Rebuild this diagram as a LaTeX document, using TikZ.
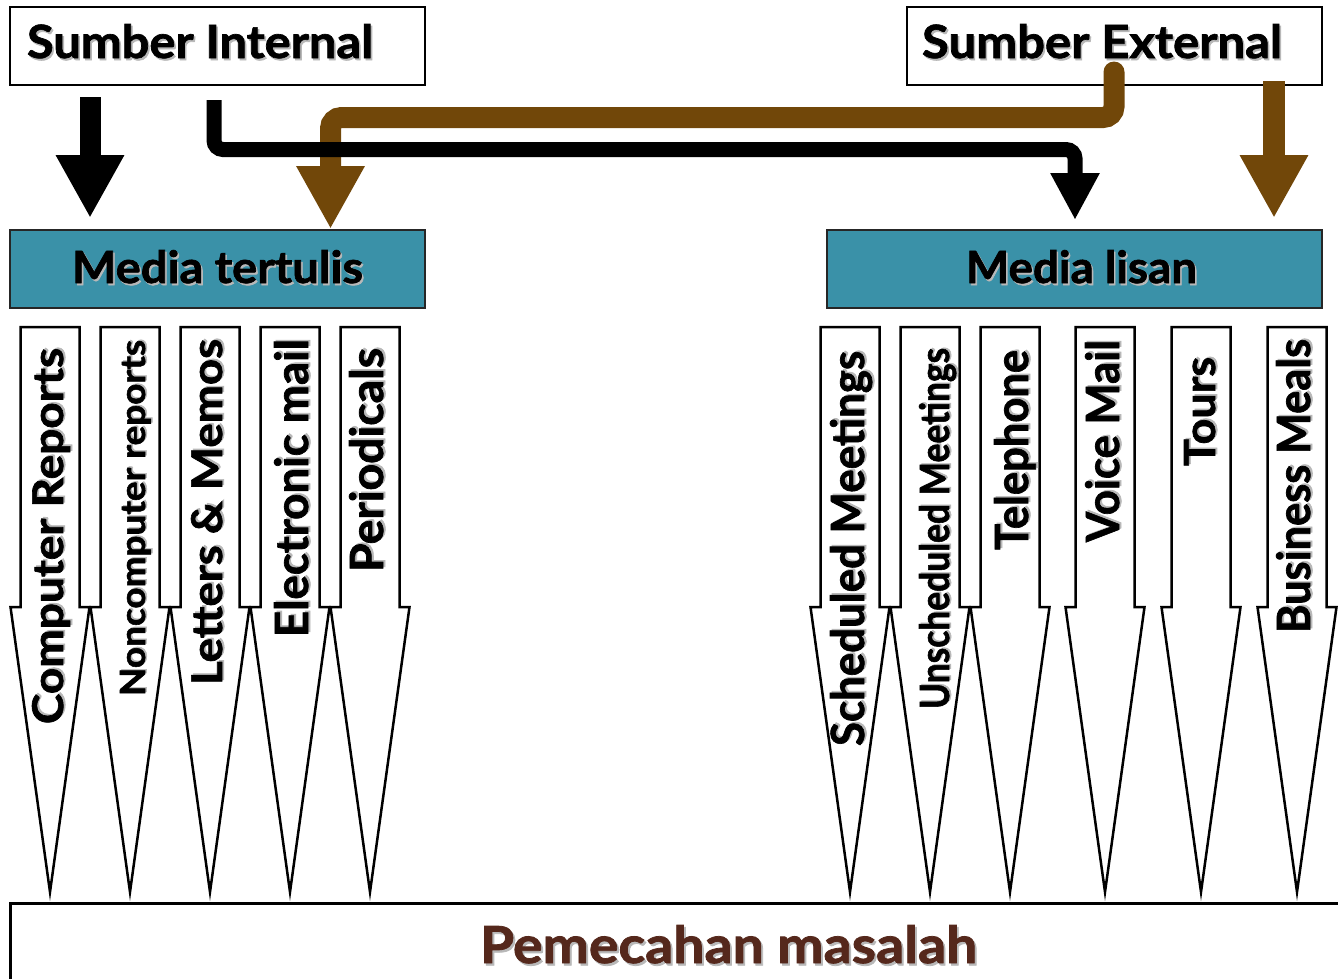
\documentclass[tikz,border=0pt]{standalone}
\usepackage{fontspec}
\setmainfont{Lato}[BoldFeatures={FakeBold=1.5}]
\usepackage{graphicx}
\usetikzlibrary{arrows.meta,calc}
\definecolor{mediafill}{RGB}{58,145,168}
\definecolor{brn}{RGB}{113,71,9}
\definecolor{pmtext}{RGB}{85,40,28}
\newcommand{\fitlbl}[3]{\resizebox{#1pt}{#2pt}{\bfseries\rlap{\raisebox{-0.045em}{\hspace{0.035em}\textcolor{black!28}{#3}}}#3}}
\newcommand{\dnarrow}[1]{\draw[arr] (#1-29.5,327) -- (#1+29.5,327) -- (#1+29.5,607) -- (#1+39.5,607) -- (#1,892) -- (#1-39.5,607) -- (#1-29.5,607) -- cycle;}
\begin{document}
\begin{tikzpicture}[x=1pt,y=-1pt,
  box/.style={draw=black, line width=2pt, fill=white, inner sep=0, outer sep=0},
  media/.style={draw=black!85, line width=2.5pt, fill=mediafill, inner sep=0, outer sep=0},
  lbl/.style={inner sep=0, outer sep=0, anchor=base west},
  vlbl/.style={inner sep=0, outer sep=0, anchor=base east, rotate=90},
  arr/.style={draw=black, line width=2.5pt, fill=white, line join=miter},
  blk/.style={draw=black, line width=21pt, -{Triangle[width=64pt,length=63pt]}},
  blkL/.style={draw=black, line width=15pt, rounded corners=9pt, -{Triangle[width=46pt,length=47pt]}},
  brnL/.style={draw=brn, line width=21pt, line cap=round, rounded corners=11pt, -{Triangle[width=64pt,length=63pt]}},
  brnS/.style={draw=brn, line width=22pt, -{Triangle[width=64pt,length=63pt]}}
]
\useasboundingbox (0,0) rectangle (1338,978);
\clip (0,0) rectangle (1338,978);

% down arrows (media items)
\dnarrow{50}\dnarrow{130}\dnarrow{210}\dnarrow{290}\dnarrow{370}
\dnarrow{850}\dnarrow{930}\dnarrow{1010}\dnarrow{1105}\dnarrow{1201}\dnarrow{1297}

% boxes
\node[box, minimum width=415pt, minimum height=78pt] (si) at (217.5,46) {};
\node[box, minimum width=415pt, minimum height=78pt] (se) at (1114.5,46) {};
\node[media, minimum width=415pt, minimum height=78pt] (mt) at (217.5,269) {};
\node[media, minimum width=495pt, minimum height=78pt] (ml) at (1074.5,269) {};
\node[box, line width=3pt, minimum width=1430pt, minimum height=200pt, anchor=north west] (pm) at (10,903) {};

% connectors
\draw[brnL] ($(se.center)+(-0.5,26)$) |- ($(mt.north)+(113,-112.5)$) -- ($(mt.north)+(113,-1)$);
\draw[brnS] ($(se.south)+(159.5,-4)$) -- ($(ml.north)+(199.5,-12)$);
\draw[blk] ($(si.south)+(-127.5,12)$) -- ($(mt.north)+(-127.5,-12)$);
\draw[blkL] ($(si.south)+(-3.5,15)$) |- ($(ml.north)+(0.5,-80.5)$) -- ($(ml.north)+(0.5,-10)$);

% labels
\node[lbl] (tsi) at (27,58) {\fitlbl{346}{34}{Sumber Internal}};
\node[lbl] (tse) at (922,58) {\fitlbl{360}{34}{Sumber External}};
\node[lbl] (tmt) at (72,283) {\fitlbl{291}{33}{Media tertulis}};
\node[lbl] (tml) at (966,283) {\fitlbl{231}{33}{Media lisan}};
\node[lbl, text=pmtext] (tpm) at (480,963) {\fitlbl{497}{38}{Pemecahan masalah}};

\node[vlbl] (v1) at (63,348) {\fitlbl{376}{31}{Computer Reports}};
\node[vlbl] (v2) at (145,340) {\fitlbl{356}{25}{Noncomputer reports}};
\node[vlbl] (v3) at (222,339) {\fitlbl{346}{31}{Letters \& Memos}};
\node[vlbl] (v4) at (308,339) {\fitlbl{298}{34}{Electronic mail}};
\node[vlbl] (v5) at (383,348) {\fitlbl{224}{34}{Periodicals}};

\node[vlbl] (v6) at (864,351) {\fitlbl{395}{34}{Scheduled Meetings}};
\node[vlbl] (v7) at (949,348) {\fitlbl{361}{30}{Unscheduled Meetings}};
\node[vlbl] (v8) at (1028,350) {\fitlbl{200}{34}{Telephone}};
\node[vlbl] (v9) at (1119,340) {\fitlbl{202}{34}{Voice Mail}};
\node[vlbl] (v10) at (1215,357) {\fitlbl{109}{31}{Tours}};
\node[vlbl] (v11) at (1310,339) {\fitlbl{294}{34}{Business Meals}};
\end{tikzpicture}
\end{document}
